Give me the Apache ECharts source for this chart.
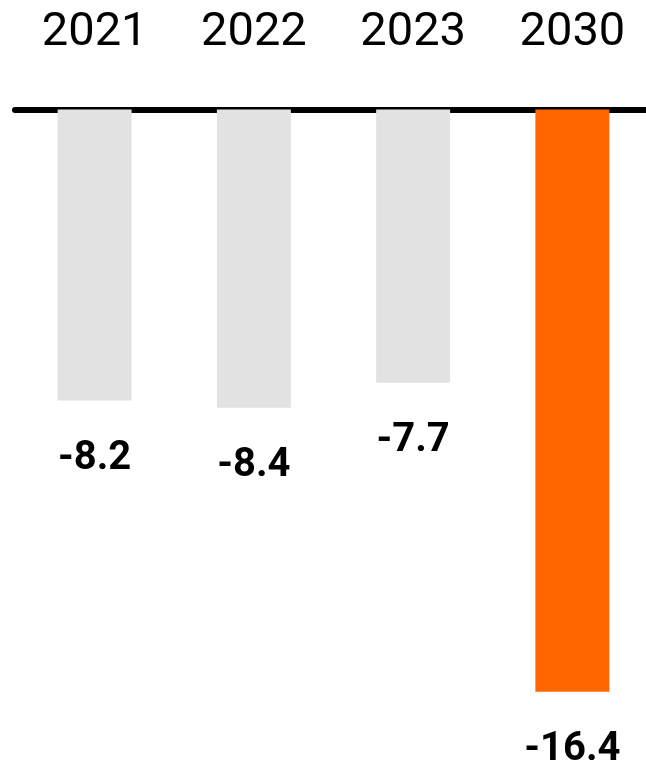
<!DOCTYPE html>
<html>
<head>
<meta charset="utf-8">
<script src="https://cdn.jsdelivr.net/npm/echarts@6/dist/echarts.min.js"></script>
<style>
html,body{margin:0;padding:0;background:#fff;overflow:hidden;width:646px;height:765px;}
#chart{width:652px;height:765px;}
</style>
</head>
<body>
<div id="chart"></div>
<script>
const categories = ['2021', '2022', '2023', '2030'];
const values = [-8.2, -8.4, -7.7, -16.4];
const barColors = ['#e2e2e2', '#e2e2e2', '#e2e2e2', '#ff6600'];

const chart = echarts.init(document.getElementById('chart'), null, {renderer: 'canvas'});
chart.setOption({
  animation: false,
  backgroundColor: '#ffffff',
  grid: {left: 15, right: 0, top: 109.5, bottom: 16.5, containLabel: false},
  xAxis: {
    type: 'category',
    position: 'top',
    data: categories,
    axisLine: {show: true, lineStyle: {color: '#000', width: 6}},
    axisTick: {show: false},
    axisLabel: {
      color: '#000',
      fontFamily: 'Roboto',
      fontSize: 47,
      margin: 53
    }
  },
  yAxis: {
    type: 'value',
    min: -18,
    max: 0,
    show: false,
    splitLine: {show: false}
  },
  series: [{
    type: 'bar',
    barWidth: 74,
    data: values.map((v, i) => ({value: v, itemStyle: {color: barColors[i]}})),
    label: {
      show: true,
      position: 'bottom',
      distance: 38,
      color: '#000',
      fontFamily: 'Roboto',
      fontWeight: 'bold',
      fontSize: 40,
      formatter: p => p.value.toFixed(1)
    }
  }]
});
</script>
</body>
</html>
